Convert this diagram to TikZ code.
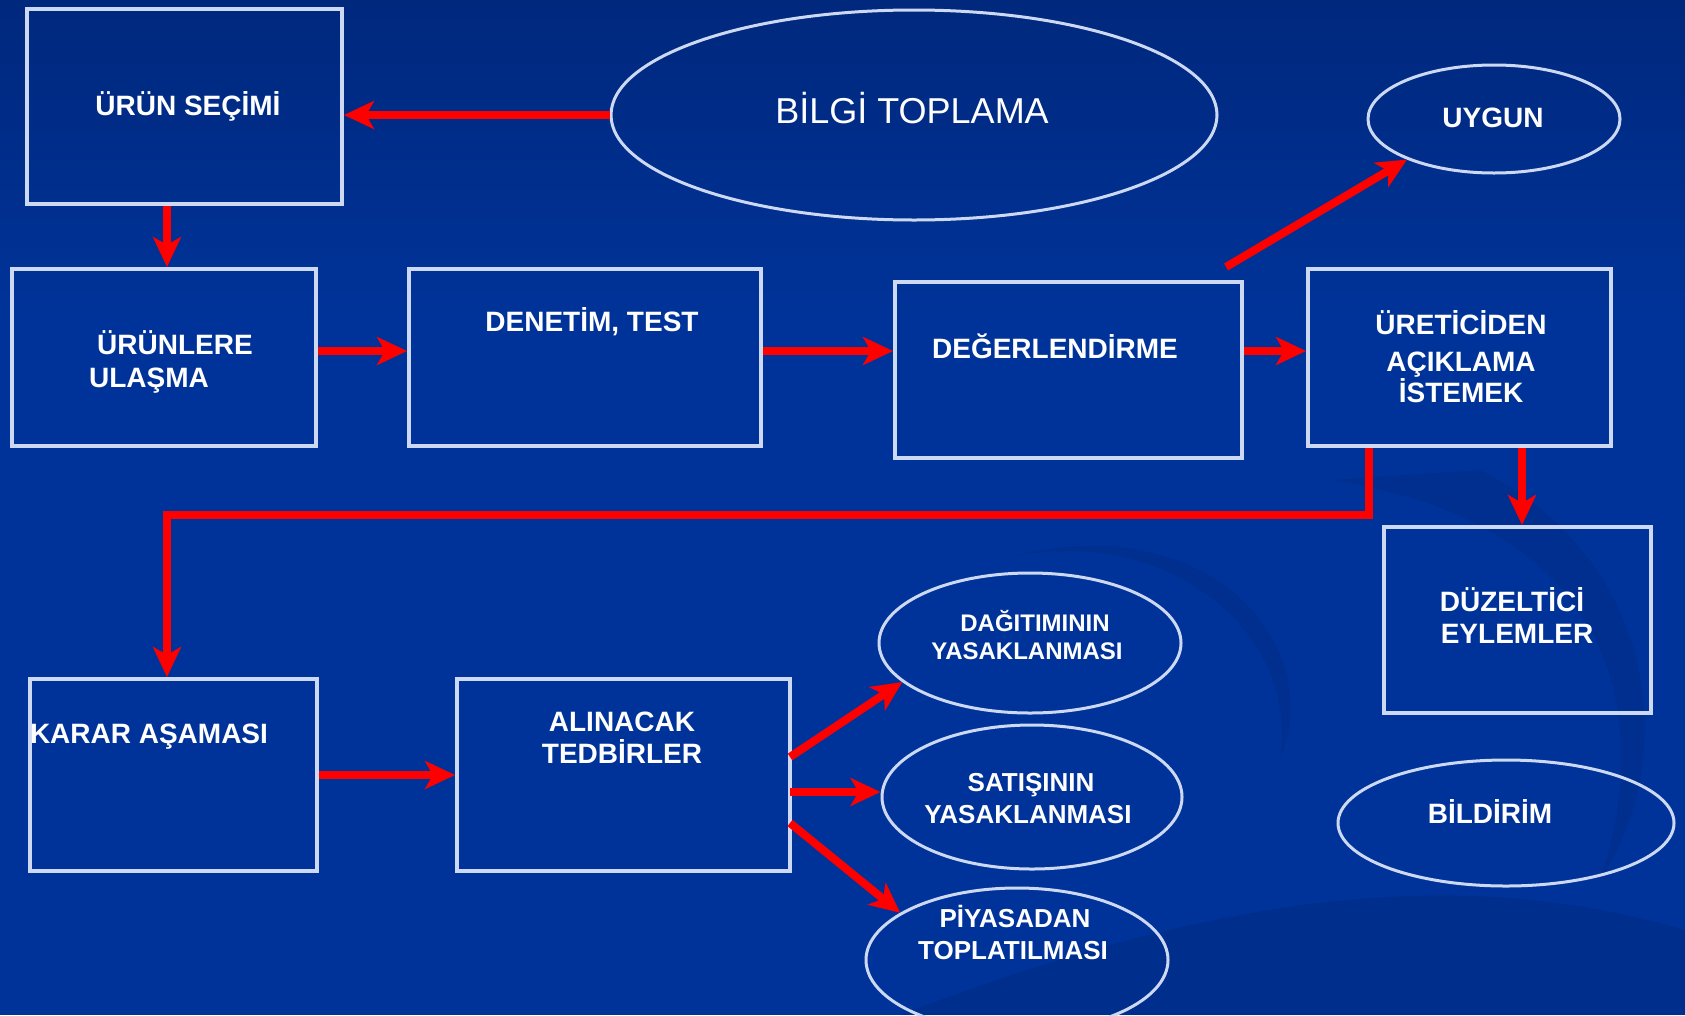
\documentclass[tikz,border=0pt]{standalone}
\usepackage{fontspec}
\setmainfont{Liberation Sans}
\usetikzlibrary{arrows.meta,shapes.geometric}
\definecolor{bgtop}{RGB}{0,40,125}
\definecolor{bgmid}{RGB}{0,51,153}
\definecolor{bgdark}{RGB}{0,38,120}
\definecolor{boxline}{RGB}{205,216,242}
\definecolor{arrred}{RGB}{255,0,0}
\begin{document}
\begin{tikzpicture}[x=1pt,y=-1pt,
  box/.style={draw=boxline, line width=4pt, rectangle, inner sep=0pt},
  oval/.style={draw=boxline, line width=3pt, ellipse, inner sep=0pt},
  txt/.style={text=white, font=\fontsize{28}{30}\selectfont\bfseries, anchor=base, inner sep=0pt},
  big/.style={text=white, font=\fontsize{36}{40}\selectfont, anchor=base, inner sep=0pt},
  small/.style={txt, font=\fontsize{24}{26}\selectfont\bfseries},
  mid/.style={txt, font=\fontsize{26}{28}\selectfont\bfseries},
  arr/.style={draw=arrred, line width=8pt, -{Stealth[length=30pt,width=28pt,inset=8pt]}},
]
\useasboundingbox (0,0) rectangle (1685,1015);
% background
\fill[bgmid] (0,0) rectangle (1685,1015);
\shade[top color=bgtop, bottom color=bgmid] (0,0) rectangle (1685,320);
\fill[bgdark, opacity=0.35] (900,1015) .. controls (1200,900) and (1450,860) .. (1685,930) -- (1685,1015) -- cycle;
\fill[bgdark, opacity=0.30] (1330,480) .. controls (1600,520) and (1660,700) .. (1600,880) .. controls (1680,760) and (1660,560) .. (1480,470) -- cycle;
\fill[bgdark, opacity=0.25] (1000,560) .. controls (1150,520) and (1300,620) .. (1280,760) .. controls (1330,640) and (1200,500) .. (1000,560) -- cycle;

% boxes
\node[box, minimum width=315pt, minimum height=195pt] (b1) at (184.5,106.5) {};
\node[box, minimum width=304pt, minimum height=177pt] (b2) at (164,357.5) {};
\node[box, minimum width=352pt, minimum height=177pt] (b3) at (585,357.5) {};
\node[box, minimum width=347pt, minimum height=176pt] (b4) at (1068.5,370) {};
\node[box, minimum width=303pt, minimum height=177pt] (b5) at (1459.5,357.5) {};
\node[box, minimum width=267pt, minimum height=186pt] (b6) at (1517.5,620) {};
\node[box, minimum width=287pt, minimum height=192pt] (b7) at (173.5,775) {};
\node[box, minimum width=333pt, minimum height=192pt] (b8) at (623.5,775) {};

% ellipses
\node[oval, minimum width=606pt, minimum height=210pt] (e1) at (914,115) {};
\node[oval, minimum width=252pt, minimum height=108pt] (e2) at (1494,119) {};
\node[oval, minimum width=336pt, minimum height=126pt] (e3) at (1506,823) {};
\node[oval, minimum width=302pt, minimum height=140pt] (e4) at (1030,643) {};
\node[oval, minimum width=300pt, minimum height=144pt] (e5) at (1032,797) {};
\node[oval, minimum width=302pt, minimum height=144pt] (e6) at (1017,960) {};

% texts
\node[txt] (t1) at (188,115) {ÜRÜN SEÇİMİ};
\node[big] (t2) at (912,123) {BİLGİ TOPLAMA};
\node[txt] (t3a) at (175,354) {ÜRÜNLERE};
\node[txt] (t3b) at (149,387) {ULAŞMA};
\node[txt] (t4) at (592,331) {DENETİM, TEST};
\node[txt] (t5) at (1055,358) {DEĞERLENDİRME};
\node[txt] (t6a) at (1461,334) {ÜRETİCİDEN};
\node[txt] (t6b) at (1461,371) {AÇIKLAMA};
\node[txt] (t6c) at (1461,402) {İSTEMEK};
\node[txt] (t7) at (1493,127) {UYGUN};
\node[txt] (t8a) at (1512,611) {DÜZELTİCİ};
\node[txt] (t8b) at (1517,643) {EYLEMLER};
\node[txt] (t9) at (1490,823) {BİLDİRİM};
\node[small] (t10a) at (1035,631) {DAĞITIMININ};
\node[small] (t10b) at (1027,659) {YASAKLANMASI};
\node[mid] (t11a) at (1031,791) {SATIŞININ};
\node[mid] (t11b) at (1028,823) {YASAKLANMASI};
\node[mid] (t12a) at (1015,927) {PİYASADAN};
\node[mid] (t12b) at (1013,959) {TOPLATILMASI};
\node[txt] (t13) at (149,743) {KARAR AŞAMASI};
\node[txt] (t14a) at (622,731) {ALINACAK};
\node[txt] (t14b) at (622,763) {TEDBİRLER};

% helper coordinates
\coordinate (k1) at (167,0);
\coordinate (r1) at (0,351);
\coordinate (k2) at (1369,515);
\coordinate (k3) at (167,515);
\coordinate (k4) at (1522,0);
\coordinate (u0) at (1226,267);
\coordinate (a1) at (790,757);
\coordinate (a2) at (790,792);
\coordinate (a3) at (790,823);

% connectors
\draw[arr] (e1.west) -- (e1.west -| b1.east);
\draw[arr] (b1.south -| k1) -- (b2.north -| k1);
\draw[arr] (b2.east |- r1) -- (b3.west |- r1);
\draw[arr] (b3.east |- r1) -- (b4.west |- r1);
\draw[arr] (b4.east |- r1) -- (b5.west |- r1);
\draw[arr] (u0) -- (e2.205);
\draw[arr] (b5.south -| k2) -- (k2) -- (k3) -- (b7.north -| k3);
\draw[arr] (b5.south -| k4) -- (b6.north -| k4);
\draw[arr] (b7.east) -- (b8.west);
\draw[arr] (a1) -- (e4.197);
\draw[arr] (a2) -- (a2 -| e5.west);
\draw[arr] (a3) -- (e6.158);
\end{tikzpicture}
\end{document}
